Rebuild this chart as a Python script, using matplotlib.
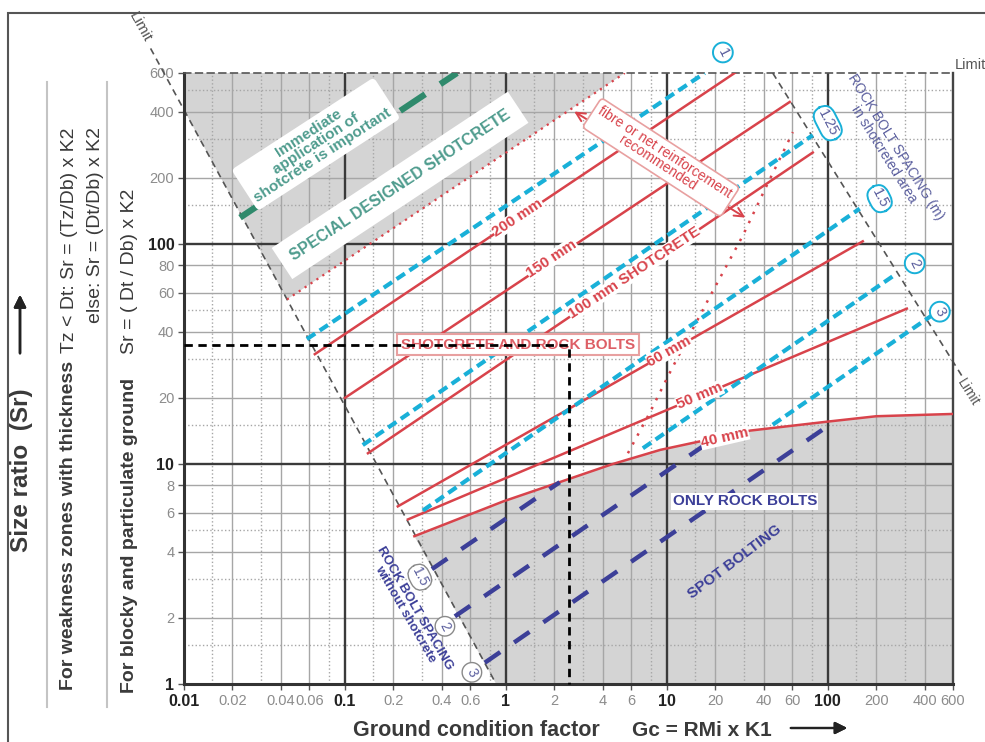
import matplotlib
matplotlib.use("Agg")
import matplotlib.pyplot as plt
from matplotlib.patches import Rectangle
from matplotlib.lines import Line2D
from matplotlib.ticker import NullLocator

plt.rcParams["font.family"] = ["Liberation Sans", "DejaVu Sans"]

# ─── data ─────────────────────────────────────────────────────────────────────

x_ticks = [0.01, 0.02, 0.04, 0.06, 0.1, 0.2, 0.4, 0.6, 1, 2, 4, 6, 10, 20, 40, 60, 100, 200, 400, 600]
x_labels = ["0.01", "0.02", "0.04", "0.06", "0.1", "0.2", "0.4", "0.6", "1", "2", "4", "6",
            "10", "20", "40", "60", "100", "200", "400", "600"]
y_ticks = [1, 2, 4, 6, 8, 10, 20, 40, 60, 80, 100, 200, 400, 600]
y_labels = ["1", "2", "4", "6", "8", "10", "20", "40", "60", "80", "100", "200", "400", "600"]
x_decades = [0.01, 0.1, 1, 10, 100]
y_decades = [1, 10, 100]

x_grid_solid = [0.02, 0.04, 0.06, 0.2, 0.4, 0.6, 2, 4, 6, 20, 40, 60, 200, 400]
x_grid_dot = [0.015, 0.03, 0.08, 0.15, 0.3, 0.8, 1.5, 3, 8, 15, 30, 80, 150, 300]
y_grid_solid = [2, 4, 6, 8, 20, 40, 60, 80, 200, 400]
y_grid_dot = [1.5, 3, 5, 15, 30, 50, 150, 300, 500]

# shotcrete thickness lines (end points Gc, Sr)
thick_names = ["200 mm", "150 mm", "100 mm SHOTCRETE", "60 mm", "50 mm"]
thick_gc = [[0.065, 26.4], [0.1, 58], [0.139, 80.7], [0.213, 165], [0.246, 310]]
thick_sr = [[31.6, 600], [20, 443], [11.2, 261], [6.42, 103], [5.6, 50.9]]
thick_lab_gc = [1.19, 1.93, 6.3, 10.4, 16]
thick_lab_sr = [132, 86, 74, 32.6, 20.4]
thick_lab_rot = [33.5, 33.5, 33.5, 29.5, 23]

# 40 mm curve (lower boundary of shotcrete)
gc_40 = [0.27, 0.96, 4.6, 9.1, 33, 100, 200, 600]
sr_40 = [4.7, 6.76, 10, 11.6, 14.2, 15.6, 16.5, 16.9]

# rock bolt spacing in shotcreted area (cyan)
bolt_sc_names = ["1", "1.25", "1.5", "2", "3"]
bolt_sc_gc = [[0.058, 17.2], [0.129, 80.7], [0.305, 158], [7.1, 269], [45.5, 449]]
bolt_sc_sr = [[37, 600], [12.2, 313], [6.15, 145], [11.8, 73.6], [15.1, 47.7]]
bolt_sc_tag_gc = [22.3, 100, 210, 347, 497]
bolt_sc_tag_sr = [744, 355, 161, 81.8, 49.3]

# rock bolt spacing without shotcrete (navy)
bolt_ns_names = ["1.5", "2", "3"]
bolt_ns_gc = [[0.347, 2.16], [0.482, 17.2], [0.74, 107]]
bolt_ns_sr = [[3.33, 8.27], [2.03, 12.2], [1.25, 15.4]]
bolt_ns_tag_gc = [0.292, 0.418, 0.615]
bolt_ns_tag_sr = [3.06, 1.83, 1.13]

# limits
left_limit_gc = [0.0062, 0.87]
left_limit_sr = [776, 1]
right_limit_gc = [45.5, 690]
right_limit_sr = [600, 24.8]

# special designed shotcrete boundary (red dotted)
special_gc = [0.0436, 5.48]
special_sr = [56, 600]
# fibre / net reinforcement boundary (red dotted)
fibre_gc = [5.73, 7.83, 10.7, 18.5, 29.6, 41.8, 60.7]
fibre_sr = [11.2, 17.1, 27, 57.7, 109, 185, 323]

# immediate shotcrete (green)
green_gc = [0.0223, 0.497]
green_sr = [132, 600]

# example reading
example_gc = 2.46
example_sr = 34.8

# shaded zones
gray_top_gc = [0.01, 0.01, 0.0436, 5.48]
gray_top_sr = [600, 407, 56, 600]
gray_bot_gc = gc_40 + [600, 0.87]
gray_bot_sr = sr_40 + [1, 1]

# ─── style ────────────────────────────────────────────────────────────────────

RED = "#d8434b"
CYAN = "#19b0d8"
NAVY = "#3c3f98"
GREEN = "#2f8a6c"
TEAL = "#4f9c8e"
GFILL = "#d4d4d4"
TAGTXT = "#5b5f9e"
TXT = "#3a3a3a"

W, H = 985, 742
fig = plt.figure(figsize=(W / 100, H / 100), dpi=100)
ax = fig.add_axes([184 / W, 1 - 684 / H, (953 - 184) / W, (684 - 73) / H])
ax.set_xscale("log")
ax.set_yscale("log")
ax.set_xlim(0.01, 600)
ax.set_ylim(1, 600)

# shaded areas
ax.fill(gray_top_gc, gray_top_sr, color=GFILL, lw=0, zorder=0.5)
ax.fill(gray_bot_gc, gray_bot_sr, color=GFILL, lw=0, zorder=0.5)

# grid
for v in x_grid_solid:
    ax.axvline(v, color="#a6a6a6", lw=1.0, zorder=1)
for v in x_grid_dot:
    ax.axvline(v, color="#a6a6a6", lw=1.0, ls=":", zorder=1)
for v in y_grid_solid:
    ax.axhline(v, color="#a6a6a6", lw=1.0, zorder=1)
for v in y_grid_dot:
    ax.axhline(v, color="#a6a6a6", lw=1.0, ls=":", zorder=1)
for v in x_decades[1:]:
    ax.axvline(v, color="#3a3a3a", lw=1.7, zorder=1.2)
for v in y_decades[1:]:
    ax.axhline(v, color="#3a3a3a", lw=1.7, zorder=1.2)

# limits
lim_kw = dict(color="#555555", lw=1.2, ls=(0, (4, 3)), clip_on=False, zorder=2)
ax.plot(left_limit_gc, left_limit_sr, **lim_kw)
ax.plot(right_limit_gc, right_limit_sr, **lim_kw)

# boundaries
ax.plot(special_gc, special_sr, color=RED, lw=1.6, ls=(0, (1, 2.2)), zorder=2.5)
ax.plot(fibre_gc, fibre_sr, color=RED, lw=1.8, ls=(0, (1, 3)), zorder=2.5)
ax.plot(green_gc, green_sr, color=GREEN, lw=4.5, ls=(0, (4.8, 2.9)), zorder=3,
        dash_capstyle="butt")

# shotcrete thickness
for gc, sr in zip(thick_gc, thick_sr):
    ax.plot(gc, sr, color=RED, lw=1.8, zorder=3)
ax.plot(gc_40, sr_40, color=RED, lw=1.8, zorder=3)

# bolt spacing lines
for gc, sr in zip(bolt_sc_gc, bolt_sc_sr):
    ax.plot(gc, sr, color=CYAN, lw=3, ls=(0, (2.4, 1.3)), zorder=3.2, dash_capstyle="butt")
for gc, sr in zip(bolt_ns_gc, bolt_ns_sr):
    ax.plot(gc, sr, color=NAVY, lw=3.2, ls=(0, (4.2, 3.8)), zorder=3.2, dash_capstyle="butt")

# example reading
ax.plot([0.01, example_gc, example_gc], [example_sr, example_sr, 1], color="black",
        lw=2, ls=(0, (3, 2)), zorder=6, clip_on=False)

# line labels
for name, gx, gy, rot in zip(thick_names, thick_lab_gc, thick_lab_sr, thick_lab_rot):
    ax.text(gx, gy, name, color=RED, fontsize=11, fontweight="bold", rotation=rot,
            ha="center", va="center", rotation_mode="anchor", zorder=4,
            bbox=dict(fc="white", ec="none", pad=0.3))
ax.text(22.9, 13.2, "40 mm", color=RED, fontsize=11, fontweight="bold", rotation=13,
        ha="center", va="center", rotation_mode="anchor", zorder=4,
        bbox=dict(fc="white", ec="none", pad=0.3))

for name, gx, gy in zip(bolt_sc_names, bolt_sc_tag_gc, bolt_sc_tag_sr):
    style = "circle,pad=0.2" if len(name) == 1 else "round,pad=0.25,rounding_size=0.8"
    ax.text(gx, gy, name, color=TAGTXT, fontsize=10.5, rotation=-63, ha="center", va="center",
            rotation_mode="anchor", zorder=5, clip_on=False,
            bbox=dict(boxstyle=style, fc="white", ec=CYAN, lw=1.4))
for name, gx, gy in zip(bolt_ns_names, bolt_ns_tag_gc, bolt_ns_tag_sr):
    style = "circle,pad=0.2" if len(name) == 1 else "round,pad=0.25,rounding_size=0.8"
    ax.text(gx, gy, name, color=TAGTXT, fontsize=10, rotation=-63, ha="center", va="center",
            rotation_mode="anchor", zorder=5,
            bbox=dict(boxstyle=style, fc="white", ec="#8a8a8a", lw=1.0))

# zone texts
ax.text(0.066, 285, "Immediate\napplication of\nshotcrete is important", color=TEAL,
        fontsize=11, fontweight="bold", rotation=33, ha="center", va="center",
        rotation_mode="anchor", linespacing=0.9, zorder=4,
        bbox=dict(boxstyle="round,pad=0.3", fc="white", ec="none"))
ax.text(0.22, 185, "SPECIAL DESIGNED SHOTCRETE", color=TEAL, fontsize=11.5,
        fontweight="bold", rotation=33.5, ha="center", va="center", rotation_mode="anchor",
        zorder=4, bbox=dict(fc="white", ec="none", pad=8))
ax.text(1.19, 34.8, "SHOTCRETE AND ROCK BOLTS", color=RED, fontsize=11, fontweight="bold",
        ha="center", va="center", zorder=4, alpha=0.85,
        bbox=dict(fc="white", ec="#e8a0a0", lw=1.5, pad=2.5))
ax.text(9.2, 248, "fibre or net reinforcement\nrecommended", color=RED, fontsize=10,
        rotation=-33, ha="center", va="center", rotation_mode="anchor", linespacing=0.9,
        zorder=4, bbox=dict(boxstyle="round,pad=0.3", fc="white", ec="#e8a0a0", lw=1.2))
ax.annotate("", xy=(2.57, 407), xytext=(31.8, 130),
            arrowprops=dict(arrowstyle="<->", color=RED, lw=1.4, mutation_scale=16), zorder=3.5)
ax.text(243, 267, "ROCK BOLT SPACING (m)\nin shotcreted area", color=TAGTXT, fontsize=10,
        rotation=-58, ha="center", va="center", rotation_mode="anchor", linespacing=1.0,
        zorder=4)
ax.text(0.254, 2.14, "ROCK BOLT SPACING\nwithout shotcrete", color=NAVY, fontsize=9.5,
        fontweight="bold", rotation=-60, ha="center", va="center", rotation_mode="anchor",
        linespacing=0.9, zorder=4)
ax.text(30.5, 6.76, "ONLY ROCK BOLTS", color=NAVY, fontsize=11, fontweight="bold",
        ha="center", va="center", zorder=4, bbox=dict(fc="white", ec="none", pad=1))
ax.text(26.4, 3.59, "SPOT BOLTING", color=NAVY, fontsize=11, fontweight="bold",
        rotation=37, ha="center", va="center", rotation_mode="anchor", zorder=4)

ax.text(0.0053, 969, "Limit", color="#555555", fontsize=11, rotation=-61, ha="center",
        va="center", rotation_mode="anchor", clip_on=False)
ax.text(615, 650, "Limit", color="#555555", fontsize=10.5, ha="left", va="center",
        clip_on=False)
ax.text(741, 21.2, "Limit", color="#555555", fontsize=10, rotation=-58, ha="center",
        va="center", rotation_mode="anchor", clip_on=False)

# axes
ax.xaxis.set_minor_locator(NullLocator())
ax.yaxis.set_minor_locator(NullLocator())
ax.set_xticks(x_ticks)
ax.set_xticklabels(x_labels)
ax.set_yticks(y_ticks)
ax.set_yticklabels(y_labels)
ax.tick_params(direction="out", length=4, width=1, color="#555555", pad=3)
for lbls, ticks, decs in ((ax.get_xticklabels(), x_ticks, x_decades),
                          (ax.get_yticklabels(), y_ticks, y_decades)):
    for lbl, v in zip(lbls, ticks):
        if v in decs:
            lbl.set_fontweight("bold"); lbl.set_fontsize(11.5); lbl.set_color("#222222")
        else:
            lbl.set_fontsize(10.5); lbl.set_color("#8c8c8c")

for s in ["left", "bottom"]:
    ax.spines[s].set_linewidth(2.2)
    ax.spines[s].set_color("#333333")
ax.spines["right"].set_linewidth(1.7)
ax.spines["right"].set_color("#444444")
ax.spines["top"].set_linestyle((0, (4, 3)))
ax.spines["top"].set_color("#555555")
ax.spines["top"].set_linewidth(1.2)

# ─── outer texts ──────────────────────────────────────────────────────────────

fig.add_artist(Rectangle((8 / W, -0.1), 1.2, 1 - 13 / H + 0.1, transform=fig.transFigure,
                         fill=False, ec="#555555", lw=1.5))
for px in (47, 107):
    fig.add_artist(Line2D([px / W, px / W], [1 - 82 / H, 1 - 707 / H], transform=fig.transFigure,
                          color="#c4c4c4", lw=1.5))

fig.text(22 / W, 1 - 470 / H, "Size ratio  (Sr)", rotation=90, ha="center", va="center",
         fontsize=17.5, fontweight="bold", color=TXT)
fig.add_artist(plt.annotate("", xy=(20 / W, 1 - 292 / H), xytext=(20 / W, 1 - 356 / H),
                            xycoords="figure fraction",
                            arrowprops=dict(arrowstyle="-|>", color="#222222", lw=1.8,
                                            mutation_scale=18)))

r = fig.canvas.get_renderer()


def two_part(x_px, bottom_px, bold_txt, norm_txt, fs, gap_px):
    t = fig.text(x_px / W, 1 - bottom_px / H, bold_txt, rotation=90, ha="center", va="bottom",
                 fontsize=fs, fontweight="bold", color=TXT)
    top = t.get_window_extent(r).y1
    fig.text(x_px / W, (top + gap_px) / H, norm_txt, rotation=90, ha="center", va="bottom",
             fontsize=fs, color=TXT)


two_part(69, 690, "For weakness zones with thickness", "Tz < Dt: Sr = (Tz/Db) x K2", 14, 8)
fig.text(95 / W, 1 - 127 / H, "else: Sr = (Dt/Db) x K2", rotation=90, ha="center", va="top",
         fontsize=14, color=TXT)
two_part(130, 693, "For blocky and particulate ground", "Sr = ( Dt / Db) x K2", 14, 24)

fig.text(353 / W, 1 - 730 / H, "Ground condition factor", ha="left", va="center",
         fontsize=15.5, fontweight="bold", color=TXT)
fig.text(632 / W, 1 - 730 / H, "Gc = RMi x K1", ha="left", va="center",
         fontsize=15, fontweight="bold", color=TXT)
fig.add_artist(plt.annotate("", xy=(850 / W, 1 - 728 / H), xytext=(788 / W, 1 - 728 / H),
                            xycoords="figure fraction",
                            arrowprops=dict(arrowstyle="-|>", color="#222222", lw=1.6,
                                            mutation_scale=18)))

fig.savefig("out.png", dpi=100)
